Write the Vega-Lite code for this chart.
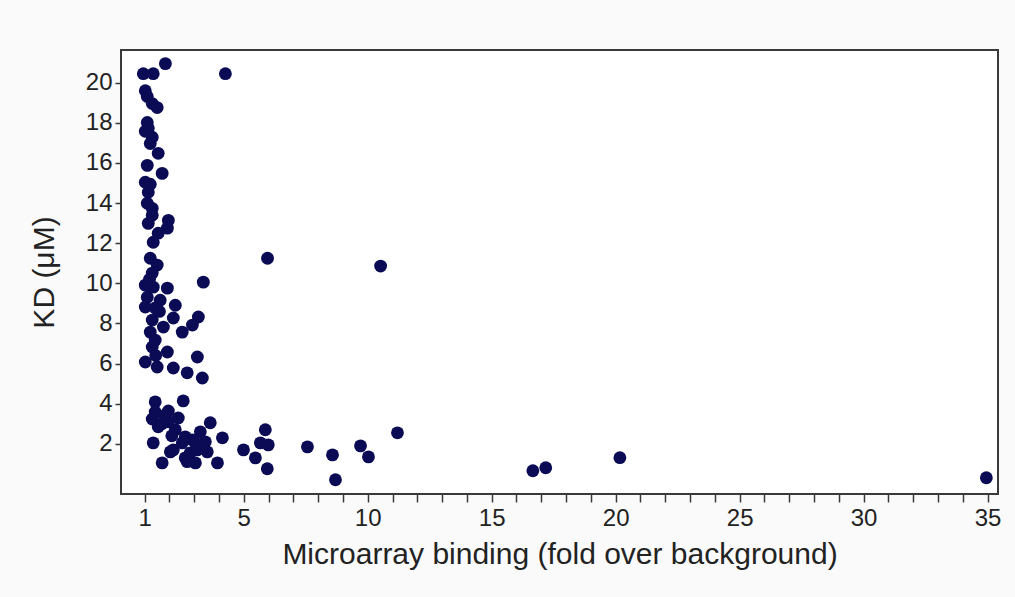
{
  "$schema": "https://vega.github.io/schema/vega-lite/v6.json",
  "autosize": "none",
  "width": 877,
  "height": 444,
  "padding": {"left": 121, "top": 50, "right": 17, "bottom": 103},
  "background": "#fafafa",
  "config": {
    "view": {"fill": "white", "stroke": "#3a3a3a", "strokeWidth": 2},
    "font": "Liberation Sans",
    "axis": {
      "domain": false,
      "grid": false,
      "tickColor": "#3a3a3a",
      "tickWidth": 1.5,
      "labelColor": "#222222",
      "titleColor": "#222222",
      "labelFont": "Liberation Sans",
      "titleFont": "Liberation Sans",
      "labelFontSize": 24,
      "titleFontSize": 30,
      "titleFontWeight": "normal"
    }
  },
  "data": {
    "values": [
      {"fold": 1.84, "kd": 20.95}, {"fold": 4.26, "kd": 20.45}, {"fold": 0.95, "kd": 20.45}, {"fold": 1.35, "kd": 20.45},
      {"fold": 1.03, "kd": 19.6}, {"fold": 1.11, "kd": 19.31}, {"fold": 1.31, "kd": 18.96}, {"fold": 1.51, "kd": 18.76},
      {"fold": 1.11, "kd": 18.02}, {"fold": 1.15, "kd": 17.73}, {"fold": 1.03, "kd": 17.58}, {"fold": 1.31, "kd": 17.28},
      {"fold": 1.23, "kd": 16.97}, {"fold": 1.55, "kd": 16.48}, {"fold": 1.11, "kd": 15.88}, {"fold": 1.71, "kd": 15.48},
      {"fold": 1.03, "kd": 15.04}, {"fold": 1.23, "kd": 14.94}, {"fold": 1.15, "kd": 14.54}, {"fold": 1.11, "kd": 13.99},
      {"fold": 1.31, "kd": 13.74}, {"fold": 1.31, "kd": 13.39}, {"fold": 1.96, "kd": 13.14}, {"fold": 1.15, "kd": 12.99},
      {"fold": 1.92, "kd": 12.75}, {"fold": 1.55, "kd": 12.5}, {"fold": 1.35, "kd": 12.05}, {"fold": 1.23, "kd": 11.25},
      {"fold": 5.96, "kd": 11.25}, {"fold": 1.51, "kd": 10.91}, {"fold": 1.31, "kd": 10.51}, {"fold": 10.52, "kd": 10.86},
      {"fold": 3.37, "kd": 10.06}, {"fold": 1.03, "kd": 9.91}, {"fold": 1.35, "kd": 9.81}, {"fold": 1.92, "kd": 9.76},
      {"fold": 1.11, "kd": 9.31}, {"fold": 1.63, "kd": 9.16}, {"fold": 2.24, "kd": 8.91}, {"fold": 1.03, "kd": 8.82},
      {"fold": 1.43, "kd": 8.77}, {"fold": 3.17, "kd": 8.32}, {"fold": 2.16, "kd": 8.27}, {"fold": 1.31, "kd": 8.17},
      {"fold": 2.93, "kd": 7.92}, {"fold": 1.76, "kd": 7.82}, {"fold": 2.52, "kd": 7.57}, {"fold": 1.23, "kd": 7.57},
      {"fold": 1.43, "kd": 7.17}, {"fold": 1.31, "kd": 6.83}, {"fold": 1.92, "kd": 6.58}, {"fold": 3.13, "kd": 6.33},
      {"fold": 1.03, "kd": 6.08}, {"fold": 1.51, "kd": 5.83}, {"fold": 2.16, "kd": 5.78}, {"fold": 2.72, "kd": 5.54},
      {"fold": 3.33, "kd": 5.28}, {"fold": 1.2, "kd": 10.2}, {"fold": 1.6, "kd": 8.6}, {"fold": 1.45, "kd": 6.4},
      {"fold": 1.43, "kd": 4.09}, {"fold": 2.56, "kd": 4.14}, {"fold": 1.43, "kd": 3.59}, {"fold": 1.96, "kd": 3.64},
      {"fold": 2.36, "kd": 3.29}, {"fold": 1.31, "kd": 3.24}, {"fold": 1.55, "kd": 2.85}, {"fold": 1.96, "kd": 3.1},
      {"fold": 3.65, "kd": 3.05}, {"fold": 2.24, "kd": 2.7}, {"fold": 3.25, "kd": 2.6}, {"fold": 4.14, "kd": 2.3},
      {"fold": 1.35, "kd": 2.05}, {"fold": 2.52, "kd": 2.05}, {"fold": 2.93, "kd": 2.2}, {"fold": 3.45, "kd": 2.1},
      {"fold": 3.05, "kd": 2.05}, {"fold": 2.64, "kd": 2.35}, {"fold": 2.04, "kd": 1.6}, {"fold": 2.84, "kd": 1.55},
      {"fold": 2.64, "kd": 1.3}, {"fold": 2.16, "kd": 1.7}, {"fold": 3.13, "kd": 1.7}, {"fold": 3.53, "kd": 1.6},
      {"fold": 1.71, "kd": 1.05}, {"fold": 2.72, "kd": 1.11}, {"fold": 3.05, "kd": 1.05}, {"fold": 3.94, "kd": 1.05},
      {"fold": 4.99, "kd": 1.7}, {"fold": 5.87, "kd": 2.7}, {"fold": 5.67, "kd": 2.05}, {"fold": 5.99, "kd": 1.95},
      {"fold": 5.47, "kd": 1.3}, {"fold": 5.95, "kd": 0.76}, {"fold": 7.57, "kd": 1.85}, {"fold": 8.58, "kd": 1.45},
      {"fold": 8.7, "kd": 0.21}, {"fold": 9.71, "kd": 1.9}, {"fold": 10.03, "kd": 1.35}, {"fold": 11.2, "kd": 2.55},
      {"fold": 16.66, "kd": 0.66}, {"fold": 17.18, "kd": 0.81}, {"fold": 20.17, "kd": 1.31}, {"fold": 34.95, "kd": 0.31},
      {"fold": 1.8, "kd": 3.4}, {"fold": 2.1, "kd": 2.4}, {"fold": 1.7, "kd": 3.0}
    ]
  },
  "mark": {"type": "point", "filled": true, "opacity": 1, "size": 165, "color": "#0a0a55"},
  "encoding": {
    "x": {
      "field": "fold",
      "type": "quantitative",
      "scale": {"domain": [0.05, 35.42], "nice": false, "zero": false},
      "axis": {
        "title": "Microarray binding (fold over background)",
        "values": [1,2,3,4,5,6,7,8,9,10,11,12,13,14,15,16,17,18,19,20,21,22,23,24,25,26,27,28,29,30,31,32,33,34,35],
        "labelExpr": "datum.value == 1 || datum.value % 5 == 0 ? datum.label : ''",
        "tickSize": 8,
        "labelPadding": 4,
        "titlePadding": 9,
        "labelFlush": false,
        "labelOverlap": false
      }
    },
    "y": {
      "field": "kd",
      "type": "quantitative",
      "scale": {"domain": [-0.5, 21.63], "nice": false, "zero": false},
      "axis": {
        "title": "KD (μM)",
        "values": [2,4,6,8,10,12,14,16,18,20],
        "tickSize": 6,
        "labelPadding": 3,
        "titlePadding": 26,
        "labelFlush": false
      }
    }
  }
}
